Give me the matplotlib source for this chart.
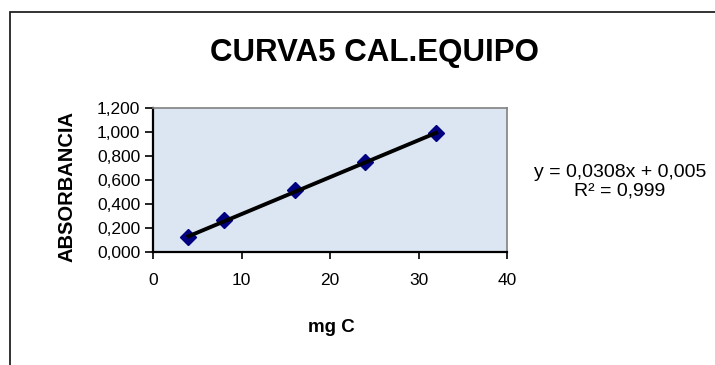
import numpy as np
import matplotlib.pyplot as plt
from matplotlib.patches import Rectangle

# data
mg_c = [4, 8, 16, 24, 32]
absorbancia = [0.125, 0.265, 0.515, 0.745, 0.99]
slope, intercept = 0.0308, 0.005
y_ticks = [0.0, 0.2, 0.4, 0.6, 0.8, 1.0, 1.2]
x_ticks = [0, 10, 20, 30, 40]

narrow = ['Liberation Sans Narrow', 'Liberation Sans', 'DejaVu Sans']
plt.rcParams['font.family'] = ['Liberation Sans', 'DejaVu Sans']

fig = plt.figure(figsize=(7.15, 3.65), dpi=100)
ax = fig.add_axes([153 / 715, 1 - 251.7 / 365, (507 - 153) / 715, 144 / 365])

# outer chart frame (runs off the right and bottom edges)
fig.patches.append(Rectangle((10 / 715, -0.05), 1.0, 1 - 12 / 365 + 0.05,
                             transform=fig.transFigure, fill=False,
                             edgecolor='#222222', linewidth=1.3))

ax.set_facecolor('#dce6f2')
x_fit = np.array([min(mg_c), max(mg_c)])
ax.plot(x_fit, slope * x_fit + intercept, color='black', linewidth=2.8, zorder=3)
ax.plot(mg_c, absorbancia, linestyle='none', marker='D', markersize=8.5,
        color='#000080', zorder=2)

ax.set_xlim(0, 40)
ax.set_ylim(0, 1.2)
ax.set_xticks(x_ticks)
ax.set_yticks(y_ticks)
ax.set_xticklabels([str(v) for v in x_ticks], family=narrow, fontsize=12.5)
ax.set_yticklabels(['{:.3f}'.format(v).replace('.', ',') for v in y_ticks],
                   family=narrow, fontsize=12.5)
ax.tick_params(axis='y', direction='out', length=6, width=1.2, pad=3)
ax.tick_params(axis='x', direction='out', length=5, width=1.2, pad=10)

for side in ['left', 'bottom']:
    ax.spines[side].set_color('black')
    ax.spines[side].set_linewidth(1.6)
for side in ['top', 'right']:
    ax.spines[side].set_color('#808080')
    ax.spines[side].set_linewidth(1.2)

fig.text(374 / 715, 1 - 53 / 365, 'CURVA5 CAL.EQUIPO', ha='center', va='center',
         fontsize=22.5, fontweight='bold')
fig.text(67 / 715, 1 - 187 / 365, 'ABSORBANCIA', ha='center', va='center',
         rotation=90, fontsize=14.5, fontweight='bold')
fig.text(331 / 715, 1 - 327 / 365, 'mg C', ha='center', va='center',
         fontsize=13.5, fontweight='bold', family=narrow)
fig.text(620 / 715, 1 - 173 / 365, 'y = 0,0308x + 0,005', ha='center',
         va='center', fontsize=14)
fig.text(620 / 715, 1 - 191 / 365, 'R² = 0,999', ha='center',
         va='center', fontsize=14)

fig.savefig('out.png', dpi=100)
